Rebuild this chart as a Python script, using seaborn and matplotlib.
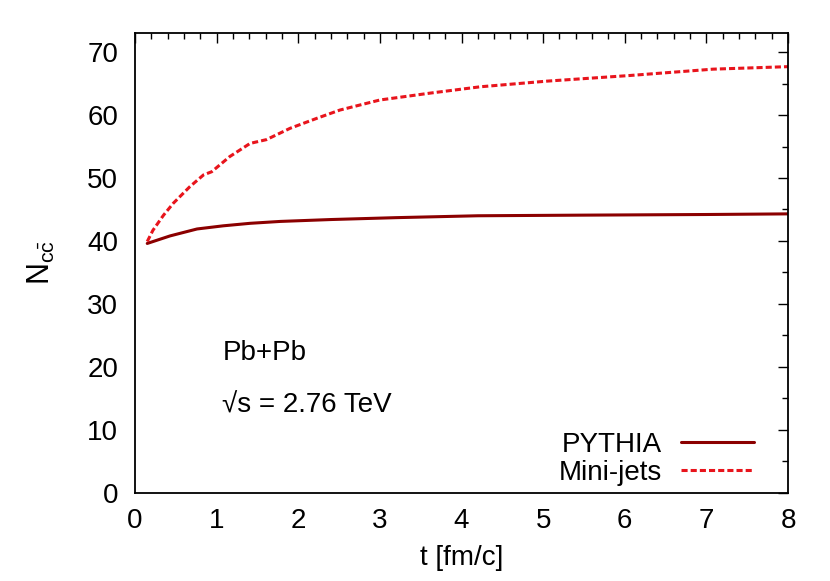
import pandas as pd
import matplotlib
matplotlib.use('Agg')
import matplotlib.pyplot as plt
import seaborn as sns
from matplotlib.ticker import MultipleLocator

# values
t_pythia = [0.15, 0.43, 0.76, 1.08, 1.41, 1.78, 2.4, 3.2, 4.2, 5.5, 7.0, 8.0]
n_pythia = [39.6, 40.8, 41.9, 42.4, 42.8, 43.1, 43.4, 43.7, 44.0, 44.1, 44.2, 44.3]

t_minijets = [0.15, 0.22, 0.35, 0.47, 0.67, 0.84, 0.94, 1.16, 1.41, 1.61, 1.90,
              2.23, 2.51, 3.0, 3.62, 4.23, 5.05, 6.07, 7.08, 8.0]
n_minijets = [39.9, 41.7, 44.1, 46.0, 48.6, 50.5, 51.0, 53.4, 55.5, 56.1, 57.9,
              59.5, 60.8, 62.4, 63.5, 64.5, 65.4, 66.3, 67.3, 67.7]

sns.set_style("white")
plt.rcParams['font.family'] = ['Liberation Sans', 'DejaVu Sans']
plt.rcParams['mathtext.fontset'] = 'custom'
plt.rcParams['mathtext.rm'] = 'Liberation Sans'
plt.rcParams['mathtext.it'] = 'Liberation Sans'
plt.rcParams['text.color'] = 'black'
plt.rcParams['axes.labelcolor'] = 'black'

fs = 20

fig = plt.figure(figsize=(8.3, 5.81), dpi=100)
ax = fig.add_axes([135 / 830, 1 - 492.6 / 581, (788 - 135) / 830, (492.6 - 33.3) / 581])

sns.lineplot(x=t_pythia, y=n_pythia, ax=ax, color='#8b0000', linewidth=2.2,
             label='PYTHIA')
sns.lineplot(x=t_minijets, y=n_minijets, ax=ax, color='#e8141c', linewidth=2.2,
             linestyle=(0, (2, 1)), label='Mini-jets')

ax.set_xlim(0, 8)
ax.set_ylim(0, 73)
ax.xaxis.set_major_locator(MultipleLocator(1))
ax.xaxis.set_minor_locator(MultipleLocator(0.2))
ax.yaxis.set_major_locator(MultipleLocator(10))
ax.yaxis.set_minor_locator(MultipleLocator(5))
ax.tick_params(which='both', direction='in', top=True, right=True, width=1,
               labelsize=fs, colors='black')
ax.tick_params(axis='y', which='major', length=7, pad=12)
ax.tick_params(axis='x', which='major', length=7, pad=11)
ax.tick_params(which='minor', length=4)
for s in ax.spines.values():
    s.set_linewidth(1.3)
    s.set_color('black')

ax.set_xlabel('t [fm/c]', fontsize=fs, labelpad=8)
ax.set_ylabel(r'$\mathrm{N}_{\mathrm{c\bar{c}}}$', fontsize=fs + 2, labelpad=22)

ax.text(1.07, 22.2, 'Pb+Pb', fontsize=fs, va='center', ha='left')
ax.text(1.07, 13.9, '\u221as = 2.76 TeV', fontsize=fs, va='center', ha='left')

ax.legend(loc='lower right', bbox_to_anchor=(0.978, -0.027), frameon=False,
          markerfirst=False, fontsize=fs, handlelength=2.63, handletextpad=0.7,
          labelspacing=0.05, borderaxespad=0.3)

fig.savefig('out.png', dpi=100)
